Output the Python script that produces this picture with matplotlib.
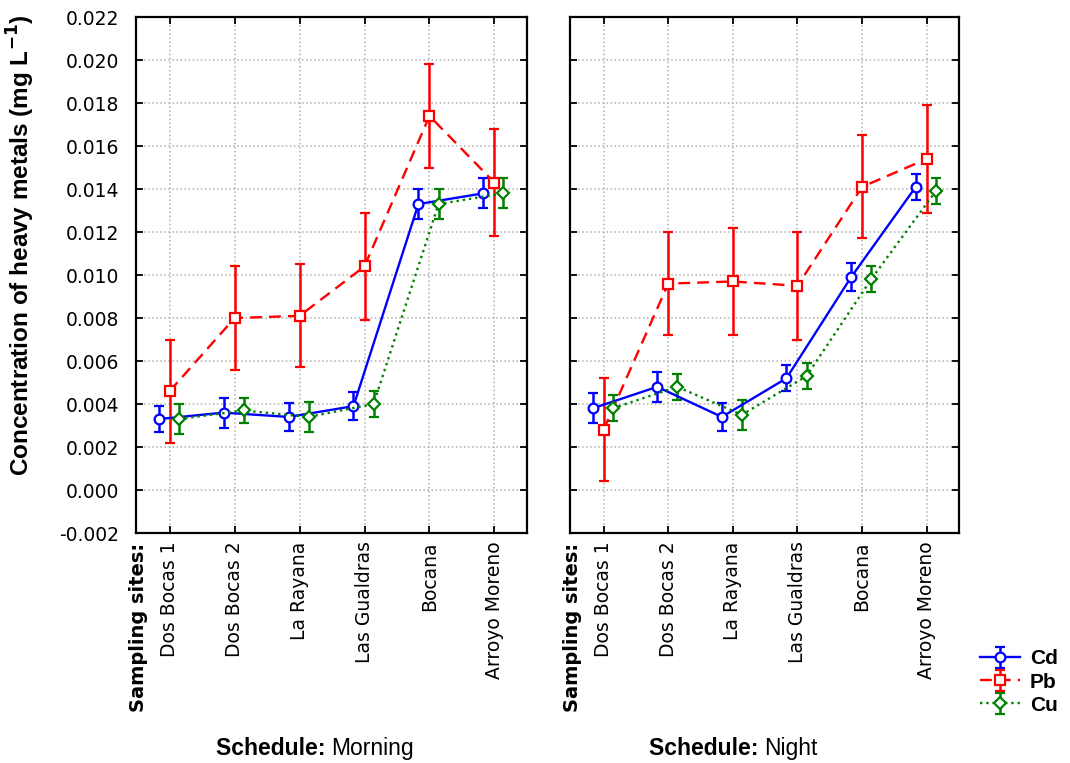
import matplotlib
matplotlib.use("Agg")
import matplotlib.pyplot as plt
import matplotlib.ticker as mticker
import numpy as np

sites = ["Dos Bocas 1", "Dos Bocas 2", "La Rayana", "Las Gualdras", "Bocana", "Arroyo Moreno"]
metals = ["Cd", "Pb", "Cu"]

# Morning means and error half-widths
cd_morning = [0.0033, 0.0036, 0.0034, 0.0039, 0.0133, 0.0138]
cd_morning_err = [0.0006, 0.0007, 0.00065, 0.00065, 0.0007, 0.0007]
pb_morning = [0.0046, 0.0080, 0.0081, 0.0104, 0.0174, 0.0143]
pb_morning_err = [0.0024, 0.0024, 0.0024, 0.0025, 0.0024, 0.0025]
cu_morning = [0.0033, 0.0037, 0.0034, 0.0040, 0.0133, 0.0138]
cu_morning_err = [0.0007, 0.0006, 0.0007, 0.0006, 0.0007, 0.0007]

# Night means and error half-widths
cd_night = [0.0038, 0.0048, 0.0034, 0.0052, 0.0099, 0.0141]
cd_night_err = [0.0007, 0.0007, 0.00065, 0.0006, 0.00065, 0.0006]
pb_night = [0.0028, 0.0096, 0.0097, 0.0095, 0.0141, 0.0154]
pb_night_err = [0.0024, 0.0024, 0.0025, 0.0025, 0.0024, 0.0025]
cu_night = [0.0038, 0.0048, 0.0035, 0.0053, 0.0098, 0.0139]
cu_night_err = [0.0006, 0.0006, 0.0007, 0.0006, 0.0006, 0.0006]

yticks = np.arange(-0.002, 0.0221, 0.002)

styles = {
    "Cd": dict(color="#0000ff", ls="-", marker="o", off=-0.17),
    "Pb": dict(color="#ff0000", ls=(0, (5, 3)), marker="s", off=0.0),
    "Cu": dict(color="#008000", ls=":", marker="D", off=0.14),
}

fig = plt.figure(figsize=(10.7, 7.63), dpi=100)
ax1 = fig.add_axes([0.127, 0.3014, 0.3654, 0.6763])
ax2 = fig.add_axes([0.5327, 0.3014, 0.3636, 0.6763])

panels = [
    (ax1, "Morning", [cd_morning, pb_morning, cu_morning], [cd_morning_err, pb_morning_err, cu_morning_err]),
    (ax2, "Night", [cd_night, pb_night, cu_night], [cd_night_err, pb_night_err, cu_night_err]),
]

x = np.arange(len(sites))
handles = []
for ax, sched, vals, errs in panels:
    for m, v, e in zip(metals, vals, errs):
        st = styles[m]
        h = ax.errorbar(x + st["off"], v, yerr=e, color=st["color"], ls=st["ls"], lw=1.7,
                        marker=st["marker"], ms=7 if m != "Cu" else 6, mfc="white",
                        mec=st["color"], mew=1.6, elinewidth=1.8, capsize=3.5, capthick=1.6,
                        label=m, zorder=3)
        if ax is ax1:
            handles.append(h)

    ax.set_xlim(-0.52, 5.5)
    ax.set_ylim(-0.002, 0.022)
    ax.yaxis.set_major_locator(mticker.FixedLocator(yticks))
    ax.set_xticks(x)
    ax.set_xticklabels(sites, rotation=90, fontsize=13.5, family="DejaVu Sans")
    ax.grid(True, color="#b0b0b0", ls=":", lw=1.1)
    ax.set_axisbelow(True)
    ax.tick_params(direction="in", length=5, width=1.3, top=True, right=True, pad=6)
    ax.tick_params(axis="y", pad=12)
    for sp in ax.spines.values():
        sp.set_linewidth(1.6)

    ax.text(-0.48, -0.02, "Sampling sites:", transform=ax.get_xaxis_transform(),
            rotation=90, ha="center", va="top", fontsize=14, fontweight="bold",
            family="DejaVu Sans")

    xc = 0.5
    ax.text(xc, -0.417, "Schedule: ", transform=ax.transAxes, ha="right", va="center",
            fontsize=16.5, fontweight="bold", family="Liberation Sans")
    ax.text(xc, -0.417, sched, transform=ax.transAxes, ha="left", va="center",
            fontsize=16.5, family="Liberation Sans")

ax1.yaxis.set_major_formatter(mticker.FormatStrFormatter("%.3f"))
for lbl in ax1.get_yticklabels():
    lbl.set_fontsize(13.5)
    lbl.set_family("DejaVu Sans")
ax2.set_yticklabels([])

ax1.set_ylabel("Concentration of heavy metals (mg L$\\mathbf{^{-1}}$)", fontsize=17.5,
               fontweight="bold", family="Liberation Sans")
ax1.yaxis.set_label_coords(-0.253, 0.558)

fig.legend(handles=handles, labels=metals, loc="center left", bbox_to_anchor=(0.916, 0.106),
           frameon=False, handlelength=1.9, labelspacing=0.2, handletextpad=0.5,
           borderaxespad=0.0, borderpad=0.0,
           prop={"family": "Liberation Sans", "weight": "bold", "size": 15})

fig.savefig("out.png", dpi=100)
